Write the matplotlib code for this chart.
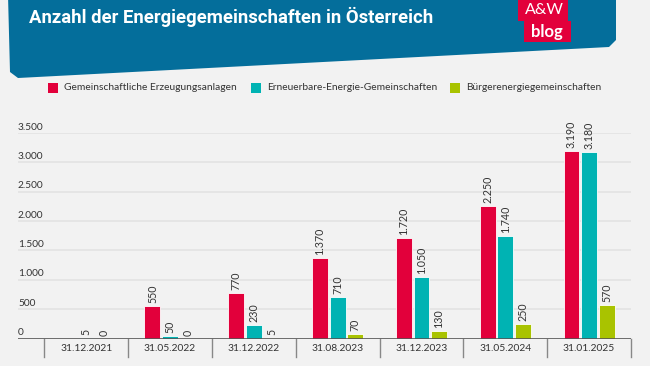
import numpy as np
import matplotlib
matplotlib.use("Agg")
import matplotlib.pyplot as plt
from matplotlib.patches import Polygon, Rectangle
from matplotlib.transforms import blended_transform_factory

# data
dates = ["31.12.2021", "31.05.2022", "31.12.2022", "31.08.2023",
         "31.12.2023", "31.05.2024", "31.01.2025"]
series_names = ["Gemeinschaftliche Erzeugungsanlagen",
                "Erneuerbare-Energie-Gemeinschaften",
                "Bürgerenergiegemeinschaften"]
gea = [None, 550, 770, 1370, 1720, 2250, 3190]
eeg = [5, 50, 230, 710, 1050, 1740, 3180]
beg = [0, 0, 5, 70, 130, 250, 570]
y_ticks = [0, 500, 1000, 1500, 2000, 2500, 3000, 3500]

colors = ["#e2003b", "#00b3b3", "#a9c300"]
bg = "#f2f2f2"
text_col = "#333333"

plt.rcParams["font.family"] = ["Lato", "DejaVu Sans"]

W, H = 650, 366
fig = plt.figure(figsize=(W / 100, H / 100), dpi=100, facecolor=bg)


def px(x, y):
    return (x / W, 1 - y / H)


def fmt(v):
    return f"{v:,}".replace(",", ".")


# banner
banner = [(8, -5), (616, -5), (616, 40), (609, 47), (18, 78), (10, 72)]
fig.patches.append(Polygon([px(*p) for p in banner], closed=True,
                           transform=fig.transFigure, facecolor="#046e9b",
                           edgecolor="none", zorder=0))
fig.text(*px(29, 17), "Anzahl der Energiegemeinschaften in Österreich",
         family=["Roboto", "DejaVu Sans"], weight="bold",
         fontsize=13.3, color="white", va="center", ha="left")

# logo
for (x0, y0, x1, y1) in [(518, 0, 568, 21), (524, 21, 571, 42)]:
    fig.patches.append(Rectangle(px(x0, y1), (x1 - x0) / W, (y1 - y0) / H,
                                 transform=fig.transFigure, facecolor="#e2003b",
                                 edgecolor="none", zorder=1))
fig.text(*px(544, 10), "A&W", fontsize=11.5, color="white", ha="center",
         va="center", zorder=2)
fig.text(*px(547, 31.5), "blog", fontsize=12, weight="bold", color="white",
         ha="center", va="center", zorder=2)

# legend
leg_x = [48, 251, 450]
for name, col, lx in zip(series_names, colors, leg_x):
    fig.patches.append(Rectangle(px(lx, 93), 10 / W, 10 / H,
                                 transform=fig.transFigure, facecolor=col,
                                 edgecolor="none"))
    fig.text(*px(lx + 16, 88), name, fontsize=7.4, color=text_col,
             va="center", ha="left")

# axes
ax = fig.add_axes([18 / W, 1 - 338.5 / H, 613 / W, 205.5 / H])
ax.set_facecolor(bg)
ax.set_xlim(-0.814, 6.5)
ax.set_ylim(0, 3500)
for s in ax.spines.values():
    s.set_visible(False)
ax.set_xticks([])
ax.set_yticks([])

for t in y_ticks[1:]:
    ax.axhline(t, color="#e2e2e2", lw=1.1, zorder=0)
for t in y_ticks:
    ax.text(-0.814, t + 25, fmt(t), fontsize=7.3,
            color=text_col, ha="left", va="bottom")

x = np.arange(len(dates))
bw = 0.19
off = 0.21
for i, (vals, col) in enumerate(zip([gea, eeg, beg], colors)):
    xs = x + (i - 1) * off
    for xi, v in zip(xs, vals):
        if v is None:
            continue
        ax.bar(xi, v, width=bw, color=col, edgecolor="white", linewidth=0.6,
               zorder=2)
        ax.text(xi, v + 50, fmt(v), rotation=90,
                fontsize=7.7, color=text_col, ha="center", va="bottom",
                clip_on=False)

ax.axhline(0, color="#555555", lw=1.2, zorder=3)
tr = blended_transform_factory(ax.transData, ax.transAxes)
for e in np.arange(len(dates) + 1) - 0.5:
    ax.plot([e, e], [0, -0.09], color="#888888", lw=1, transform=tr,
            clip_on=False)
for xi, d in zip(x, dates):
    ax.text(xi, -0.048, d, transform=tr, fontsize=7.4, color=text_col,
            ha="center", va="center")

fig.savefig("out.png", dpi=100, facecolor=bg)
